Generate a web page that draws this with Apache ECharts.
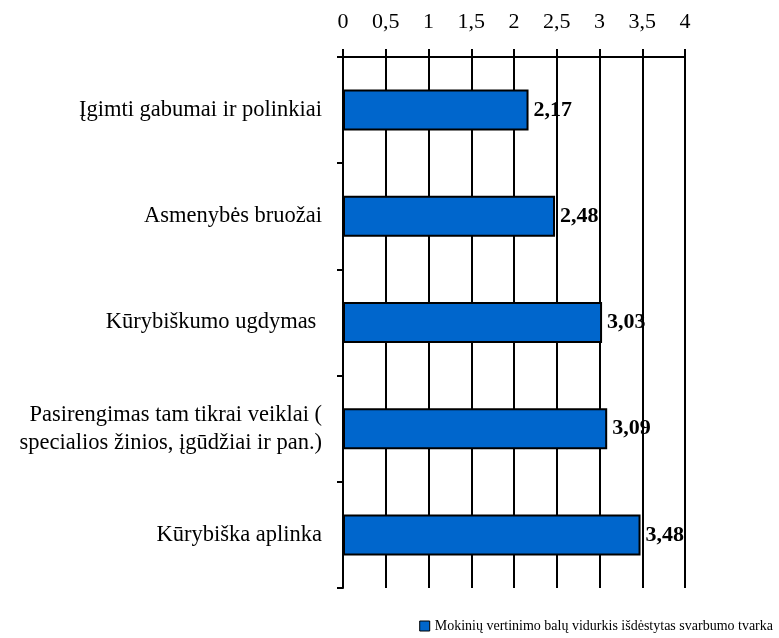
<!DOCTYPE html>
<html><head><meta charset="utf-8">
<script src="https://cdn.jsdelivr.net/npm/echarts@6/dist/echarts.min.js"></script>
<style>html,body{margin:0;padding:0;background:#fff}#c{width:779px;height:638px}</style>
</head><body><div id="c"></div>
<script>
const categories = [
  "Įgimti gabumai ir polinkiai",
  "Asmenybės bruožai",
  "Kūrybiškumo ugdymas ",
  "Pasirengimas tam tikrai veiklai (\nspecialios žinios, įgūdžiai ir pan.)",
  "Kūrybiška aplinka"
];
const values = [2.17, 2.48, 3.03, 3.09, 3.48];
const seriesName = "Mokinių vertinimo balų vidurkis išdėstytas svarbumo tvarka";
const xMin = 0, xMax = 4, xStep = 0.5;

const font = "'Liberation Serif', 'Times New Roman', serif";
const fmt = v => String(v).replace('.', ',');
const chart = echarts.init(document.getElementById('c'));
chart.setOption({
  animation: false,
  textStyle: { fontFamily: font },
  grid: { left: 343, right: 94, top: 57, bottom: 50 },
  legend: {
    data: [seriesName], right: 1, bottom: 0, icon: 'rect',
    itemWidth: 10, itemHeight: 10, itemGap: 7,
    textStyle: { fontFamily: font, fontSize: 14, color: '#000' },
    itemStyle: { borderColor: '#000', borderWidth: 1 }
  },
  xAxis: {
    type: 'value', position: 'top', min: xMin, max: xMax, interval: xStep,
    axisLine: { show: true, lineStyle: { color: '#000', width: 2 } },
    axisTick: { show: true, length: 8, lineStyle: { color: '#000', width: 2 } },
    axisLabel: { color: '#000', fontSize: 22, fontFamily: font, margin: 24, formatter: fmt },
    splitLine: { show: true, lineStyle: { color: '#000', width: 2 } }
  },
  yAxis: {
    type: 'category', data: categories, inverse: true,
    axisLine: { show: true, lineStyle: { color: '#000', width: 2 } },
    axisTick: { show: true, length: 6, lineStyle: { color: '#000', width: 2 } },
    axisLabel: { color: '#000', fontSize: 22.5, fontFamily: font, margin: 21, lineHeight: 28 }
  },
  series: [{
    name: seriesName, type: 'bar', data: values, barWidth: 41,
    itemStyle: { color: '#0066CC', borderColor: '#000', borderWidth: 2 },
    label: { show: true, position: 'right', distance: 5, color: '#000', fontWeight: 'bold',
      fontSize: 22, fontFamily: font, formatter: p => fmt(p.value) }
  }]
});
</script></body></html>
